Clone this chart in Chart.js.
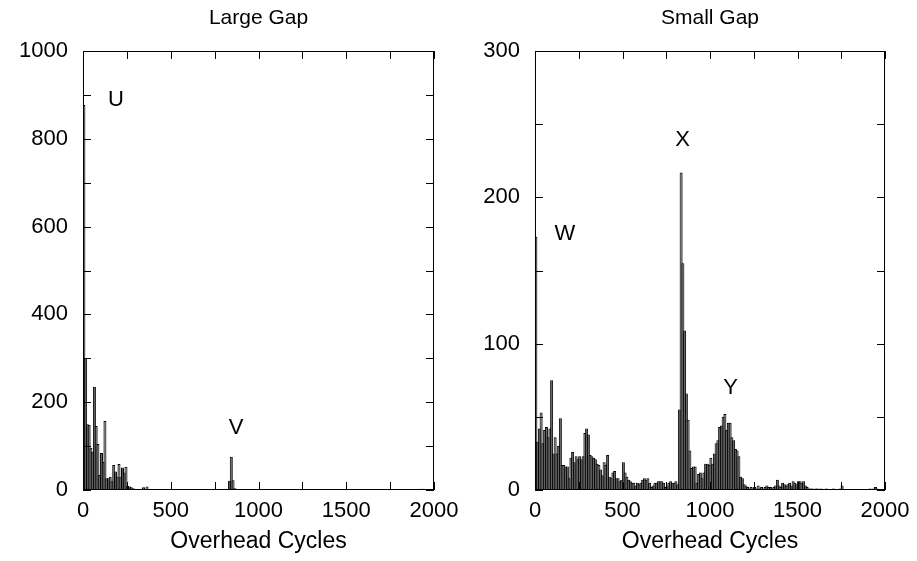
<!DOCTYPE html>
<html>
<head>
<meta charset="utf-8">
<script src="https://cdn.jsdelivr.net/npm/chart.js@4.4.1/dist/chart.umd.min.js"></script>
<style>
  html, body { margin: 0; padding: 0; background: #fff; }
  #wrap { position: relative; width: 917px; height: 561px; }
  canvas { position: absolute; top: 0; }
</style>
</head>
<body>
<div id="wrap">
  <canvas id="largeGap" width="458" height="561" style="left:0"></canvas>
  <canvas id="smallGap" width="459" height="561" style="left:458px"></canvas>
</div>
<script>
// histogramme : une case = 10 cycles, 200 cases de 0 a 2000
const binWidth = 10;

// Large Gap
const largeGapCounts = [
  877, 300, 150, 148,  96,  87, 235, 146, 105,  34,
   84,  64, 157,  27,  27,  30,  20,  57,  42,  30,
   59,  30,  51,  40,  53,   9,   8,   6,   4,   3,
    2,   2,   1,   3,   6,   2,   8,   1,   0,   0,
    0,   0,   0,   0,   0,   0,   0,   0,   0,   0,
    0,   0,   0,   0,   0,   2,   0,   0,   1,   0,
    0,   0,   0,   0,   0,   0,   0,   0,   0,   0,
    0,   0,   0,   0,   0,   0,   0,   0,   0,   0,
    0,   0,   0,  21,  76,  22,   4,   0,   0,   0,
    0,   0,   0,   0,   0,   0,   0,   0,   0,   0,
    0,   0,   0,   0,   0,   0,   0,   0,   0,   0,
    0,   0,   0,   0,   0,   0,   0,   0,   0,   0,
    0,   0,   0,   0,   0,   0,   0,   0,   0,   0,
    0,   0,   0,   0,   0,   0,   0,   0,   0,   0,
    0,   0,   0,   0,   0,   0,   0,   0,   0,   0,
    0,   0,   0,   0,   0,   0,   0,   0,   0,   0,
    0,   0,   0,   0,   0,   0,   0,   0,   0,   0,
    0,   0,   0,   0,   0,   0,   0,   0,   0,   0,
    0,   0,   0,   0,   0,   0,   0,   0,   0,   0,
    2,   0,   3,   3,   2,   0,   0,   0,   0,   0
];

// Small Gap
const smallGapCounts = [
  173,  33,  42,  53,  32,  41,  43,  36,  42,  75,
   25,  36,  25,  30,  49,  17,  17,  16,  16,   8,
   22,  26,  19,  23,  21,  23,  21,  23,  39,  42,
   38,  24,  23,  22,  21,  18,  17,  14,  10,  19,
   17,  24,   9,   8,  12,  13,   8,   8,   6,   7,
   19,  12,   9,   7,   6,   5,   5,   3,   5,   4,
    5,   7,   8,   7,   8,   5,   2,   3,   5,   5,
    6,   6,   6,   5,   2,   3,   5,   6,   5,   5,
    6,   4,  55, 217, 155, 109,  66,  48,  27,  15,
   16,  16,   5,  11,  12,   8,  12,  18,  18,  17,
   22,  18,  25,  32,  34,  43,  44,  50,  52,  41,
   46,  46,  36,  34,  28,  27,  23,   9,   8,   4,
    3,   2,   1,   2,   1,   2,   1,   3,   1,   2,
    1,   2,   3,   2,   2,   1,   2,   3,   7,   3,
    2,   5,   4,   3,   4,   5,   3,   6,   5,   4,
    6,   6,   5,   6,   3,   2,   1,   1,   1,   0,
    1,   1,   0,   1,   0,   0,   1,   0,   0,   0,
    1,   0,   0,   0,   1,   3,   0,   0,   0,   0,
    0,   0,   0,   0,   0,   0,   0,   0,   0,   0,
    0,   1,   0,   1,   2,   1,   0,   0,   0,   0
];

// etiquettes posees sur chaque graphe (cycles, valeur)
const largeGapNotes = [['U', 188, 888], ['V', 872, 141]];
const smallGapNotes = [['W', 171, 175], ['X', 843, 239], ['Y', 1117, 70]];

const FONT = '"Liberation Sans", Arial, Helvetica, sans-serif';

// cadre + graduations vers l'interieur sur les 4 cotes, comme gnuplot
const insideTicks = {
  id: 'insideTicks',
  afterDatasetsDraw(chart, args, opts) {
    const { ctx, chartArea: a, scales: { x, y } } = chart;
    ctx.save();
    ctx.strokeStyle = '#000';
    ctx.lineWidth = 1;
    ctx.strokeRect(a.left + 0.5, a.top + 0.5, a.right - a.left - 1, a.bottom - a.top - 1);
    ctx.beginPath();
    for (let v = x.min; v <= x.max; v += opts.xStep) {
      const px = Math.round(x.getPixelForValue(v)) + 0.5;
      ctx.moveTo(px, a.bottom); ctx.lineTo(px, a.bottom - 8);
      ctx.moveTo(px, a.top); ctx.lineTo(px, a.top + 8);
    }
    for (let v = y.min; v <= y.max; v += opts.yStep) {
      const py = Math.round(y.getPixelForValue(v)) + 0.5;
      ctx.moveTo(a.left, py); ctx.lineTo(a.left + 8, py);
      ctx.moveTo(a.right, py); ctx.lineTo(a.right - 8, py);
    }
    ctx.stroke();
    ctx.fillStyle = '#000';
    ctx.textAlign = 'center';
    ctx.textBaseline = 'middle';
    // titre centre sur la zone du graphe
    ctx.font = '21px ' + FONT;
    ctx.fillText(opts.title, (a.left + a.right) / 2, 18);
    // lettres
    ctx.font = '22px ' + FONT;
    (opts.notes || []).forEach(([txt, cx, cy]) => {
      ctx.fillText(txt, x.getPixelForValue(cx), y.getPixelForValue(cy));
    });
    ctx.restore();
  }
};

const crearHisto = (canvasid, titulo, counts, yMax, yLabelStep, yTickStep, notes, padRight, yWidth) => {
  const data = counts.map((c, i) => ({ x: i * binWidth + binWidth / 2, y: c }));
  return new Chart(document.getElementById(canvasid), {
    type: 'bar',
    data: {
      datasets: [{
        data: data,
        backgroundColor: '#555555',
        borderColor: '#000000',
        borderWidth: 1,
        barThickness: 3,
        inflateAmount: 0
      }]
    },
    options: {
      responsive: false,
      animation: false,
      devicePixelRatio: 1,
      layout: { padding: { left: 0, right: padRight, top: 51, bottom: 0 } },
      plugins: {
        legend: { display: false },
        tooltip: { enabled: false },
        title: { display: false },
        insideTicks: { xStep: 250, yStep: yTickStep, notes: notes, title: titulo }
      },
      scales: {
        x: {
          type: 'linear',
          min: 0,
          max: 2000,
          offset: false,
          grid: { display: false, drawTicks: false },
          border: { display: false },
          ticks: { stepSize: 500, padding: 8, color: '#000', maxRotation: 0,
                   callback: v => String(v),
                   font: { family: FONT, size: 22 } },
          title: { display: true, text: 'Overhead Cycles', color: '#000',
                   font: { family: FONT, size: 23 }, padding: { top: 0, bottom: 6 } },
          afterFit: s => { s.height = 71; s.paddingLeft = 0; s.paddingRight = 0; }
        },
        y: {
          min: 0,
          max: yMax,
          grid: { display: false, drawTicks: false },
          border: { display: false },
          ticks: { stepSize: yLabelStep, padding: 15, color: '#000',
                   callback: v => String(v),
                   font: { family: FONT, size: 22 } },
          afterFit: s => { s.width = yWidth; s.paddingTop = 0; s.paddingBottom = 0; }
        }
      }
    },
    plugins: [insideTicks]
  });
};

crearHisto('largeGap', 'Large Gap', largeGapCounts, 1000, 200, 100, largeGapNotes, 24, 83);
crearHisto('smallGap', 'Small Gap', smallGapCounts, 300, 100, 50, smallGapNotes, 32, 77);
</script>
</body>
</html>
